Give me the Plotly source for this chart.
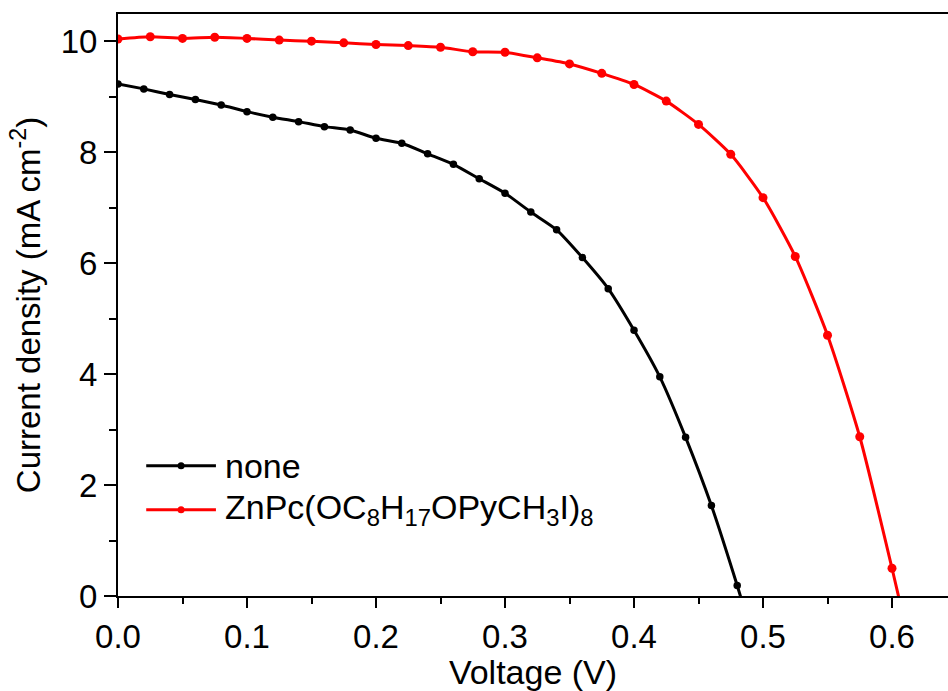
import plotly.graph_objects as go

# J-V curves of the two cells
v_none = [0.00, 0.02, 0.04, 0.06, 0.08, 0.10, 0.12, 0.14, 0.16, 0.18, 0.20, 0.22,
          0.24, 0.26, 0.28, 0.30, 0.32, 0.34, 0.36, 0.38, 0.40, 0.42, 0.44, 0.46,
          0.48, 0.50]
j_none = [9.23, 9.14, 9.04, 8.95, 8.85, 8.73, 8.63, 8.55, 8.46, 8.40, 8.25, 8.16,
          7.97, 7.78, 7.52, 7.26, 6.92, 6.60, 6.10, 5.54, 4.79, 3.95, 2.86, 1.63,
          0.19, -1.35]

v_znpc = [0.000, 0.025, 0.050, 0.075, 0.100, 0.125, 0.150, 0.175, 0.200, 0.225,
          0.250, 0.275, 0.300, 0.325, 0.350, 0.375, 0.400, 0.425, 0.450, 0.475,
          0.500, 0.525, 0.550, 0.575, 0.600, 0.625]
j_znpc = [10.04, 10.08, 10.05, 10.07, 10.05, 10.02, 10.00, 9.97, 9.94, 9.92,
          9.89, 9.81, 9.80, 9.70, 9.59, 9.42, 9.22, 8.92, 8.50, 7.96,
          7.18, 6.12, 4.70, 2.87, 0.50, -2.00]

series_names = ["none", "ZnPc(OC<sub>8</sub>H<sub>17</sub>OPyCH<sub>3</sub>I)<sub>8</sub>"]
series_colors = ["#000000", "#ff0000"]

x_ticks = [0.0, 0.1, 0.2, 0.3, 0.4, 0.5, 0.6]
y_ticks = [0, 2, 4, 6, 8, 10]

FONT = "Liberation Sans, Arial, sans-serif"

fig = go.Figure()
fig.add_trace(go.Scatter(
    x=v_none, y=j_none, mode="lines+markers", name=series_names[0],
    line=dict(color=series_colors[0], width=3, shape="spline", smoothing=0.6),
    marker=dict(color=series_colors[0], size=7.5),
    cliponaxis=True, showlegend=False,
))
fig.add_trace(go.Scatter(
    x=v_znpc, y=j_znpc, mode="lines+markers", name=series_names[1],
    line=dict(color=series_colors[1], width=3, shape="spline", smoothing=0.6),
    marker=dict(color=series_colors[1], size=9),
    cliponaxis=True, showlegend=False,
))

# legend keys: line with a centred dot, followed by the label
legend_rows = [0.224, 0.148]
for name, color, yrow in zip(series_names, series_colors, legend_rows):
    fig.add_shape(type="line", xref="paper", yref="paper",
                  x0=0.034, x1=0.118, y0=yrow, y1=yrow,
                  line=dict(color=color, width=3))
    fig.add_shape(type="circle", xref="paper", yref="paper",
                  xsizemode="pixel", ysizemode="pixel",
                  xanchor=0.076, yanchor=yrow,
                  x0=-3.5, x1=3.5, y0=-3.5, y1=3.5,
                  fillcolor=color, line=dict(color=color, width=0))
    fig.add_annotation(xref="paper", yref="paper", x=0.127, y=yrow,
                       xanchor="left", yanchor="middle", showarrow=False,
                       text=name, font=dict(family=FONT, size=34, color="black"))

axis_common = dict(
    showline=True, linecolor="black", linewidth=2,
    ticks="outside", tickcolor="black", tickwidth=2,
    showgrid=False, zeroline=False,
    tickfont=dict(family=FONT, size=33, color="black"),
)

fig.update_xaxes(
    range=[0, 0.6434], tickvals=x_ticks, ticktext=[f"{t:.1f}" for t in x_ticks],
    ticklen=10, mirror=True,
    minor=dict(dtick=0.05, tick0=0, ticklen=6, tickwidth=2, tickcolor="black", ticks="outside"),
    title=dict(text="Voltage (V)", font=dict(family=FONT, size=34, color="black"), standoff=0),
    **axis_common,
)
fig.update_yaxes(
    range=[0, 10.49], tickvals=y_ticks, ticklen=12,
    minor=dict(dtick=1, tick0=0, ticklen=7, tickwidth=2, tickcolor="black", ticks="outside"),
    title=dict(text="Current density (mA cm<sup>-2</sup>)",
               font=dict(family=FONT, size=33, color="black"), standoff=10),
    **axis_common,
)

fig.update_layout(
    width=948, height=691,
    margin=dict(l=118, r=0, t=14, b=95),
    paper_bgcolor="white", plot_bgcolor="white",
    showlegend=False,
)

fig.write_html("out.html")
